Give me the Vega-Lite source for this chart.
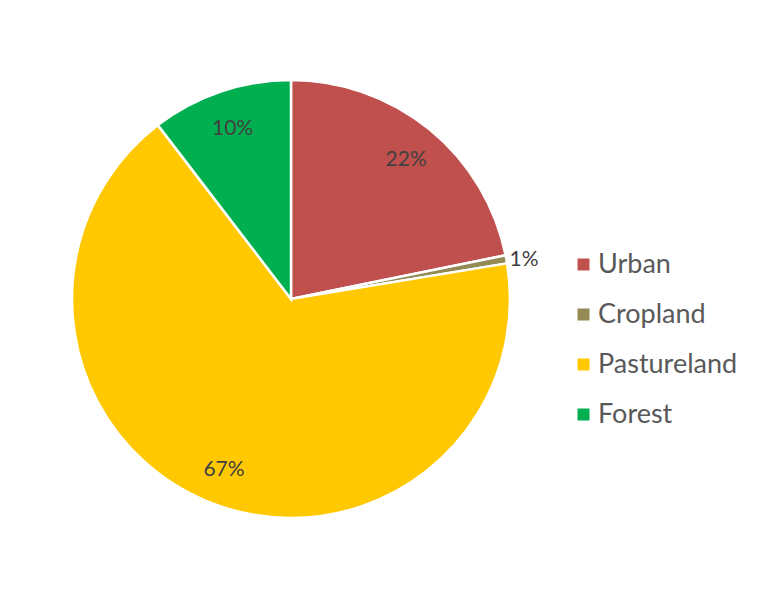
{
  "$schema": "https://vega.github.io/schema/vega-lite/v6.json",
  "autosize": {"type": "none"},
  "padding": {"left": 0, "top": 3, "right": 195, "bottom": 1},
  "width": 582,
  "height": 592,
  "background": "white",
  "config": {"view": {"stroke": null}},
  "data": {
    "values": [
      {"category": "Urban", "share": 0.218, "idx": 1},
      {"category": "Cropland", "share": 0.006, "idx": 2},
      {"category": "Pastureland", "share": 0.672, "idx": 3},
      {"category": "Forest", "share": 0.104, "idx": 4}
    ]
  },
  "encoding": {
    "theta": {"field": "share", "type": "quantitative", "stack": true},
    "order": {"field": "idx", "type": "quantitative"}
  },
  "layer": [
    {
      "mark": {"type": "arc", "outerRadius": 219, "stroke": "white", "strokeWidth": 2.5},
      "encoding": {
        "color": {
          "field": "category",
          "type": "nominal",
          "sort": ["Urban", "Cropland", "Pastureland", "Forest"],
          "scale": {
            "domain": ["Urban", "Cropland", "Pastureland", "Forest"],
            "range": ["#C0504D", "#948A54", "#FFC800", "#00B050"]
          },
          "legend": {
            "title": null,
            "orient": "none",
            "legendX": 570,
            "legendY": 248,
            "symbolType": "square",
            "symbolSize": 144,
            "symbolStrokeWidth": 0,
            "labelFont": "Lato",
            "labelFontSize": 27,
            "labelColor": "#595959",
            "labelOffset": 1,
            "rowPadding": 22,
            "labelLimit": 300
          }
        }
      }
    },
    {
      "mark": {"type": "text", "radius": 182, "font": "Lato", "fontSize": 21, "color": "#404040", "baseline": "middle", "align": "center", "dy": 2},
      "encoding": {
        "text": {"condition": {"test": "datum.share < 0.02", "value": ""}, "field": "share", "type": "quantitative", "format": ".0%"}
      }
    },
    {
      "mark": {"type": "text", "radius": 237, "font": "Lato", "fontSize": 21, "color": "#404040", "baseline": "middle", "align": "center", "dy": 4},
      "encoding": {
        "text": {"condition": {"test": "datum.share >= 0.02", "value": ""}, "field": "share", "type": "quantitative", "format": ".0%"}
      }
    }
  ]
}
